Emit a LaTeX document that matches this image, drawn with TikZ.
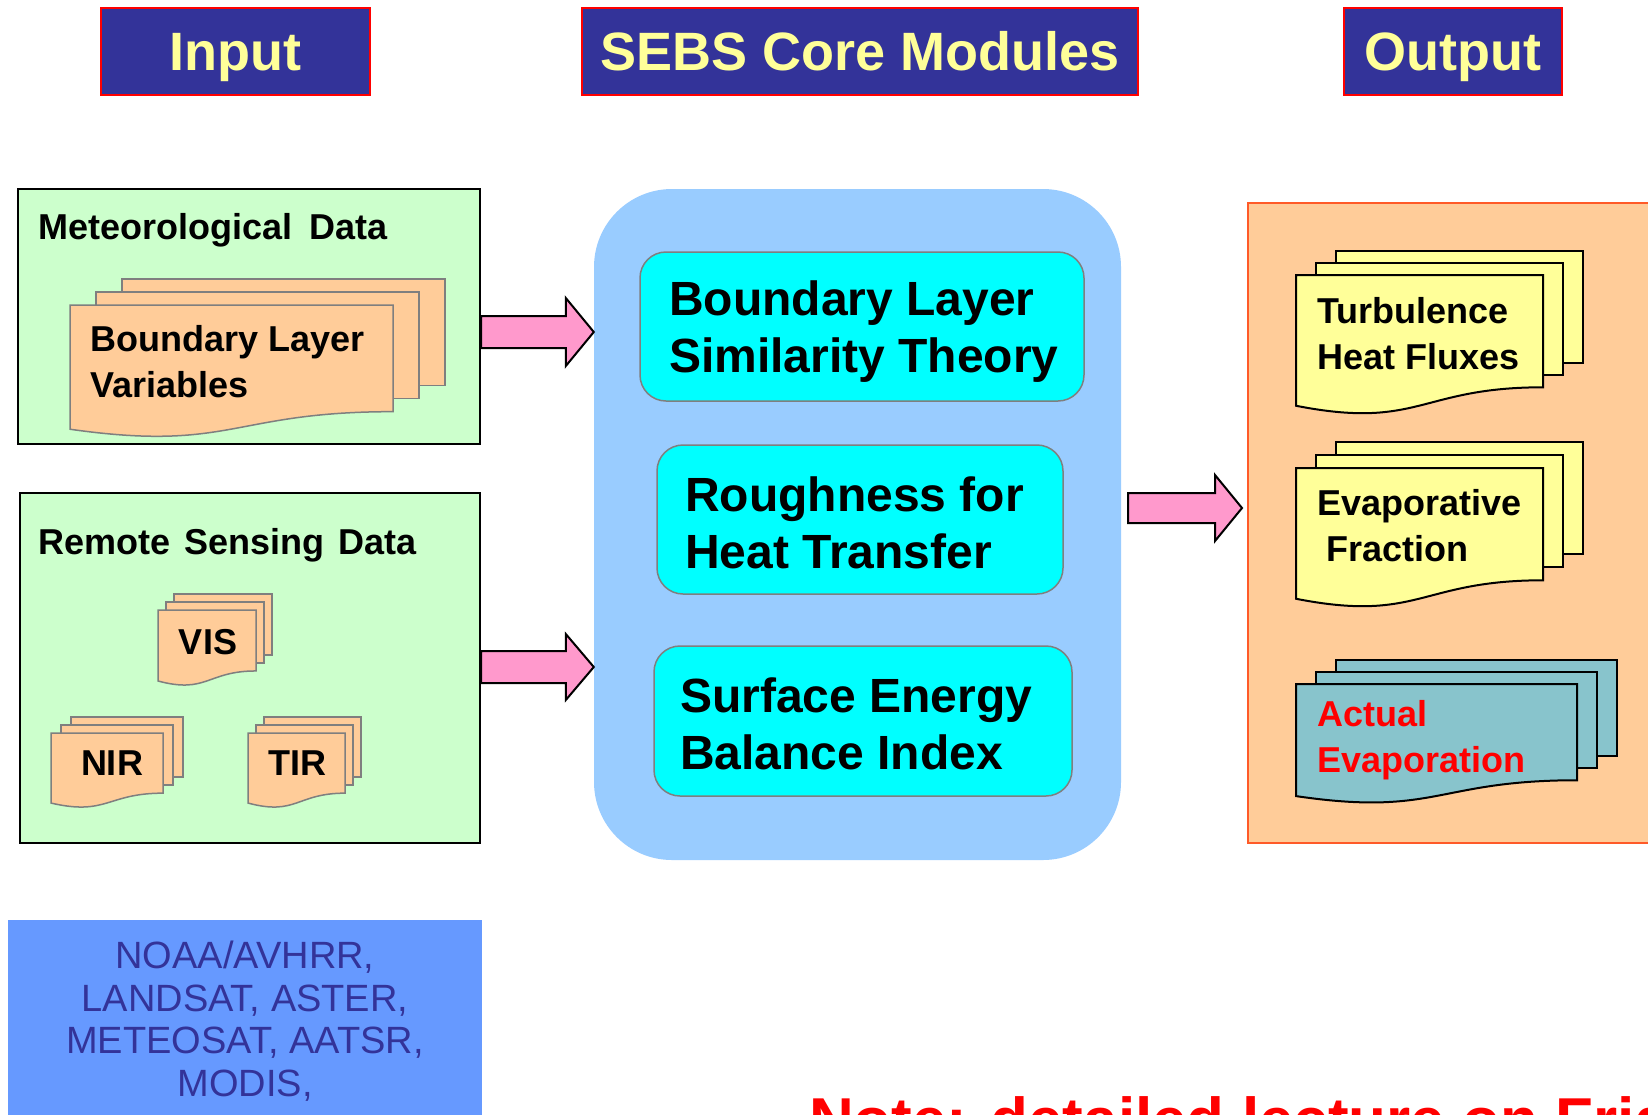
\documentclass[tikz,border=0pt]{standalone}
\usepackage{fontspec}
\setmainfont{Liberation Sans}
\usetikzlibrary{calc}
\definecolor{hdrblue}{HTML}{333399}
\definecolor{hdryel}{HTML}{FFFF99}
\definecolor{lgreen}{HTML}{CCFFCC}
\definecolor{peach}{HTML}{FFCC99}
\definecolor{coreblue}{HTML}{99CCFF}
\definecolor{cyanbox}{HTML}{00FFFF}
\definecolor{pinkarr}{HTML}{FF99CC}
\definecolor{tealdoc}{HTML}{88C4CC}
\definecolor{satblue}{HTML}{6699FF}
\definecolor{outborder}{HTML}{FF5A28}
\definecolor{docyel}{HTML}{FFFF99}
\definecolor{grayline}{HTML}{7F7F7F}

\newcommand\mdoc[7]{% x1 top w h dx dy style
  \pgfmathsetmacro\xb{#1+#3}%
  \pgfmathsetmacro\yr{#2+0.802*#4}%
  \pgfmathsetmacro\yl{#2+0.934*#4}%
  \pgfmathsetmacro\yc{#2+1.107*#4}%
  \pgfmathsetmacro\xm{#1+0.5*#3}%
  \path[#7] (#1+2*#5,#2-2*#6) rectangle (\xb+2*#5,\yr-2*#6);
  \path[#7] (#1+#5,#2-#6) rectangle (\xb+#5,\yr-#6);
  \path[#7] (#1,#2) -- (\xb,#2) -- (\xb,\yr) .. controls (\xm,\yr) and (\xm,\yc) .. (#1,\yl) -- cycle;
}
\newcommand\blockarrow[5]{% start, end, shaft half, head half, head length
  \path[pinkarrow] let \p1=(#1), \p2=(#2) in
    (\x1,\y1+#3pt) -- (\x2-#5pt,\y1+#3pt) -- (\x2-#5pt,\y1+#4pt) -- (\x2,\y1)
    -- (\x2-#5pt,\y1-#4pt) -- (\x2-#5pt,\y1-#3pt) -- (\x1,\y1-#3pt) -- cycle;
}

\begin{document}
\begin{tikzpicture}[x=1pt,y=-1pt,
  hdr/.style={draw=red, line width=2.5pt, fill=hdrblue, text=hdryel,
    font=\bfseries\fontsize{54}{60}\selectfont, inner sep=0pt,
    text height=38pt, text depth=0pt},
  greenbox/.style={draw=black, line width=2pt, fill=lgreen, inner sep=0pt},
  corebox/.style={fill=coreblue, rounded corners=78pt, inner sep=0pt},
  cybox/.style={draw=grayline, line width=1.5pt, fill=cyanbox, rounded corners=26pt, inner sep=0pt},
  outbox/.style={draw=outborder, line width=2pt, fill=peach, inner sep=0pt},
  satbox/.style={fill=satblue, inner sep=0pt},
  indoc/.style={draw=grayline, line width=1.5pt, fill=peach},
  outdoc/.style={draw=black, line width=2pt, fill=docyel},
  tealdocs/.style={draw=black, line width=2pt, fill=tealdoc},
  pinkarrow/.style={draw=black, line width=2pt, fill=pinkarr, line join=miter},
  title/.style={anchor=west, inner sep=0pt, font=\bfseries\fontsize{36}{42}\selectfont},
  doctxt/.style={anchor=west, inner sep=0pt, align=left, font=\bfseries\fontsize{36}{46}\selectfont},
  smalltxt/.style={inner sep=0pt, font=\bfseries\fontsize{36}{42}\selectfont},
  coretxt/.style={anchor=west, inner sep=0pt, align=left, font=\bfseries\fontsize{48}{57}\selectfont},
  sattxt/.style={inner sep=0pt, align=center, text=hdrblue, font=\fontsize{38}{42.5}\selectfont},
  note/.style={anchor=base west, inner sep=0pt, text=red, font=\bfseries\fontsize{62}{70}\selectfont}
]
\useasboundingbox (0,0) rectangle (1648,1114);
\clip (0,0) rectangle (1648,1114);
\fill[white] (0,0) rectangle (1648,1114);

% headers
\node[hdr, minimum width=269, minimum height=87] (hin) at (235.5,51.5) {Input};
\node[hdr, minimum width=556, minimum height=87] (hcore) at (860,51.5) {SEBS Core Modules};
\node[hdr, minimum width=218, minimum height=87] (hout) at (1453,51.5) {Output};

% input boxes
\node[greenbox, minimum width=462, minimum height=255] (met) at (249,316.5) {};
\node[title] (mettitle) at (38,230) {Meteorological\hspace{7pt} Data};
\mdoc{70}{305}{323}{133}{26}{13}{indoc}
\node[doctxt] (blv) at (90,362) {Boundary Layer\\Variables};

\node[greenbox, minimum width=460, minimum height=350] (rs) at (250,668) {};
\node[title] (rstitle) at (38,545) {Remote\hspace{4pt} Sensing\hspace{4pt} Data};
\mdoc{158}{610}{98}{76}{8}{8}{indoc}
\node[smalltxt] (vis) at (208,642) {VIS};
\mdoc{51}{733}{112}{75}{10}{8}{indoc}
\node[smalltxt] (nir) at (112,763) {NIR};
\mdoc{248}{733}{97}{75}{8}{8}{indoc}
\node[smalltxt] (tir) at (297,763) {TIR};

% core
\node[corebox, minimum width=527, minimum height=671] (core) at (857.5,524.5) {};
\node[cybox, minimum width=444, minimum height=149] (c1) at (862,326.5) {};
\node[coretxt] (c1t) at (669,332) {Boundary Layer\\Similarity Theory};
\node[cybox, minimum width=406, minimum height=149] (c2) at (860,519.5) {};
\node[coretxt] (c2t) at (685,523) {Roughness for\\Heat Transfer};
\node[cybox, minimum width=418, minimum height=150] (c3) at (863,721) {};
\node[coretxt] (c3t) at (680,724) {Surface Energy\\Balance Index};

% output
\node[outbox, minimum width=422, minimum height=640] (out) at (1459,523) {};
\mdoc{1296}{275}{247}{140}{20}{12}{outdoc}
\node[doctxt] (turb) at (1317,334) {Turbulence\\Heat Fluxes};
\mdoc{1296}{468}{247}{140}{20}{13}{outdoc}
\node[doctxt] (evap) at (1317,526) {Evaporative\\\hspace*{9pt}Fraction};
\mdoc{1296}{684}{281}{120}{20}{12}{tealdocs}
\node[doctxt, text=red] (act) at (1317,740) {Actual\\Evaporation};

% arrows
\coordinate (ya) at (0,332);
\coordinate (yb) at (0,667);
\coordinate (yc) at (0,508);
\coordinate (a1s) at (met.east |- ya);
\coordinate (a1e) at (core.west |- ya);
\coordinate (a2s) at (rs.east |- yb);
\coordinate (a2e) at (core.west |- yb);
\coordinate (a3s) at ($(core.east |- yc)+(7,0)$);
\coordinate (a3e) at ($(out.west |- yc)+(-5,0)$);
\blockarrow{a1s}{a1e}{16}{34}{28}
\blockarrow{a2s}{a2e}{16}{33}{28}
\blockarrow{a3s}{a3e}{15}{33}{27}

% satellites
\node[satbox, minimum width=474, minimum height=210] (sat) at (245,1025) {};
\node[sattxt] (sattext) at (245,1021) {NOAA/AVHRR,\\LANDSAT, ASTER,\\METEOSAT, AATSR,\\MODIS,};

% note
\node[note] (notetxt) at (809,1141) {Note: detailed lecture on Frid};
\end{tikzpicture}
\end{document}
